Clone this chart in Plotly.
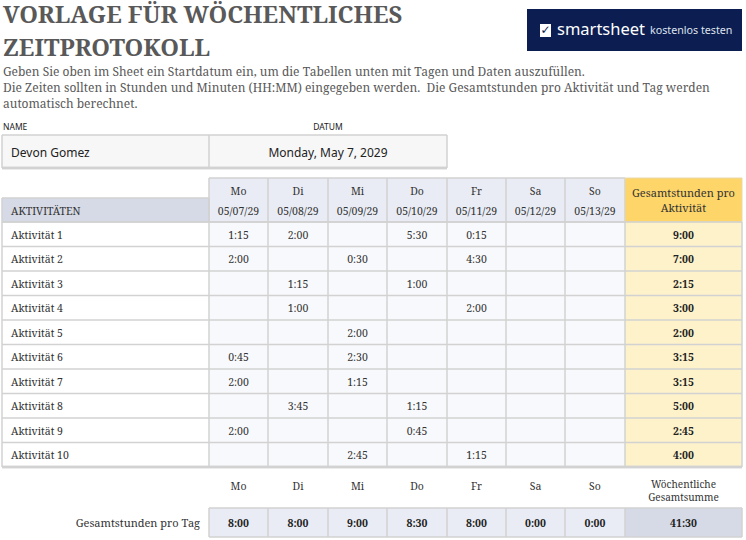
import plotly.graph_objects as go

W, H = 746, 540
SERIF = "Noto Serif, DejaVu Serif, serif"
SANS = "Noto Sans, Open Sans, sans-serif"

# Data
title_lines = ["VORLAGE FÜR WÖCHENTLICHES", "ZEITPROTOKOLL"]
intro_lines = [
    "Geben Sie oben im Sheet ein Startdatum ein, um die Tabellen unten mit Tagen und Daten auszufüllen.",
    "Die Zeiten sollten in Stunden und Minuten (HH:MM) eingegeben werden.  Die Gesamtstunden pro Aktivität und Tag werden",
    "automatisch berechnet.",
]
name_value = "Devon Gomez"
date_value = "Monday, May 7, 2029"
days = ["Mo", "Di", "Mi", "Do", "Fr", "Sa", "So"]
dates = ["05/07/29", "05/08/29", "05/09/29", "05/10/29", "05/11/29", "05/12/29", "05/13/29"]
activities = ["Aktivität %d" % i for i in range(1, 11)]
mo = ["1:15", "2:00", "", "", "", "0:45", "2:00", "", "2:00", ""]
di = ["2:00", "", "1:15", "1:00", "", "", "", "3:45", "", ""]
mi = ["", "0:30", "", "", "2:00", "2:30", "1:15", "", "", "2:45"]
do = ["5:30", "", "1:00", "", "", "", "", "1:15", "0:45", ""]
fr = ["0:15", "4:30", "", "2:00", "", "", "", "", "", "1:15"]
sa = [""] * 10
so = [""] * 10
activity_totals = ["9:00", "7:00", "2:15", "3:00", "2:00", "3:15", "3:15", "5:00", "2:45", "4:00"]
day_totals = ["8:00", "8:00", "9:00", "8:30", "8:00", "0:00", "0:00"]
week_total = "41:30"

# Sheet geometry in pixels
col_x = [2, 209, 268, 328, 387, 447, 506, 565, 625, 742]
head_y = [178, 198, 222]
row_h = 24.5
row_y = [222 + row_h * i for i in range(11)]
foot_y = [508, 537]
box_x = [2, 209, 447]
box_y = [135, 168]

# Fill palette, referenced by index in the heatmaps
palette = ["#ffffff", "#f8f9fc", "#e9ecf4", "#d6dae6", "#fdd569", "#fef2cb", "#f7f7f7"]
WHITE, BODY, DAY, HEAD, GOLD, CREAM, BOX = range(7)
scale = []
for i, c in enumerate(palette):
    scale += [[i / len(palette), c], [(i + 1) / len(palette), c]]

GRID = "#d2d2d2"
TEXT = "#333333"
GREY_TEXT = "#595959"

fig = go.Figure()


def fills(xs, ys, z):
    fig.add_trace(go.Heatmap(x=xs, y=ys, z=z, colorscale=scale, zmin=0, zmax=len(palette),
                             showscale=False, hoverinfo="skip"))


def lines(xs, ys, width=1.5, color=GRID):
    seg_x, seg_y = [], []
    for x in xs:
        seg_x += [x, x, None]
        seg_y += [ys[0], ys[-1], None]
    for y in ys:
        seg_x += [xs[0], xs[-1], None]
        seg_y += [y, y, None]
    fig.add_trace(go.Scatter(x=seg_x, y=seg_y, mode="lines", line=dict(color=color, width=width),
                             hoverinfo="skip"))


def labels(xs, ys, items, size=10.5, family=SERIF, color=TEXT, pos="middle center"):
    # scatter text sits a little above its anchor, nudge it back onto the row centre
    nudge = 1 + size * 0.09
    fig.add_trace(go.Scatter(x=xs, y=[y + nudge for y in ys], text=items, mode="text", textposition=pos,
                             hoverinfo="skip", cliponaxis=False,
                             textfont=dict(family=family, size=size, color=color)))


def centers(edges):
    return [(a + b) / 2 for a, b in zip(edges, edges[1:])]


def bold(items):
    return ["<b>%s</b>" % s for s in items]


# Name and date box
fills(box_x, box_y, [[BOX, BOX]])
lines(box_x, box_y)
lines([box_x[0], box_x[-1]], [box_y[-1], box_y[-1]], width=2.5)
labels([box_x[0] + 9], [151.5], [name_value], size=12, family=SANS, color="#222222", pos="middle right")
labels([centers(box_x)[1]], [151.5], [date_value], size=12, family=SANS, color="#222222")

# Header block
fills(col_x[1:9], head_y[:2], [[DAY] * 7])
fills(col_x[1:9], head_y[1:], [[DAY] * 7])
fills(col_x[:2], head_y[1:], [[HEAD]])
fills(col_x[8:], [head_y[0], head_y[-1]], [[GOLD]])
lines(col_x[1:9], [head_y[0], head_y[-1]])
lines(col_x[:2], head_y[1:])
lines(col_x[8:], [head_y[0], head_y[-1]], width=1, color="#e9d9a8")
labels(centers(col_x[1:9]), [190] * 7, days)
labels(centers(col_x[1:9]), [210] * 7, dates)
labels([col_x[0] + 9], [210], ["AKTIVITÄTEN"], pos="middle right")
labels([centers(col_x)[-1]] * 2, [192, 207], ["Gesamtstunden pro", "Aktivität"], size=11)

# Activity rows
fills(col_x, row_y, [[WHITE] + [BODY] * 7 + [CREAM] for _ in activities])
lines(col_x, row_y)
lines([col_x[0], col_x[-1]], [row_y[-1], row_y[-1]], width=2.5)
row_mid = centers(row_y)
labels([col_x[0] + 9] * 10, row_mid, activities, pos="middle right")
for col, x in zip([mo, di, mi, do, fr, sa, so], centers(col_x)[1:8]):
    labels([x] * 10, row_mid, col)
labels([centers(col_x)[-1]] * 10, row_mid, bold(activity_totals), color="#222222")

# Footer
labels(centers(col_x[1:9]), [485] * 7, days)
labels([centers(col_x)[-1]] * 2, [484, 497], ["Wöchentliche", "Gesamtsumme"], size=10)
fills(col_x[1:9], foot_y, [[DAY] * 7])
fills(col_x[8:], foot_y, [[HEAD]])
lines(col_x[1:], foot_y)
mid = centers(foot_y)[0]
labels(centers(col_x[1:9]), [mid] * 7, bold(day_totals), color="#222222")
labels([centers(col_x)[-1]], [mid], bold([week_total]), color="#222222")
labels([200], [mid], ["Gesamtstunden pro Tag"], size=11, pos="middle left")

# Page head
labels([3, 3], [14, 47], bold(title_lines), size=23.8, color=GREY_TEXT, pos="middle right")
labels([3] * 3, [71, 86.5, 103], intro_lines, size=12, color=GREY_TEXT, pos="middle right")
labels([3], [126], ["NAME"], size=8.5, family=SANS, color="#222222", pos="middle right")
labels([328], [126], ["DATUM"], size=8.5, family=SANS, color="#222222")

# Logo banner
for x0, x1, y0, y1, c in [(527, 742, 9, 51, "#0b1d51"), (540, 551, 24, 37, "#ffffff")]:
    fig.add_shape(type="rect", x0=x0, x1=x1, y0=y0, y1=y1, fillcolor=c, line_width=0, layer="below")
labels([545.5], [29], ["✓"], size=12, family="DejaVu Sans", color="#0b1d51")
labels([557], [28], ["smartsheet"], size=16.5, family=SANS, color="#ffffff", pos="middle right")
labels([650], [29], ["kostenlos testen"], size=10.7, family=SANS, color="#dfe3ee", pos="middle right")

fig.update_layout(
    width=W, height=H, margin=dict(l=0, r=0, t=0, b=0), paper_bgcolor="#ffffff", plot_bgcolor="#ffffff",
    showlegend=False,
    xaxis=dict(range=[0, W], visible=False, fixedrange=True),
    yaxis=dict(range=[H, 0], visible=False, fixedrange=True),
)
fig.write_html("out.html", config={"displayModeBar": False}, post_script="document.body.style.margin = '0';")
